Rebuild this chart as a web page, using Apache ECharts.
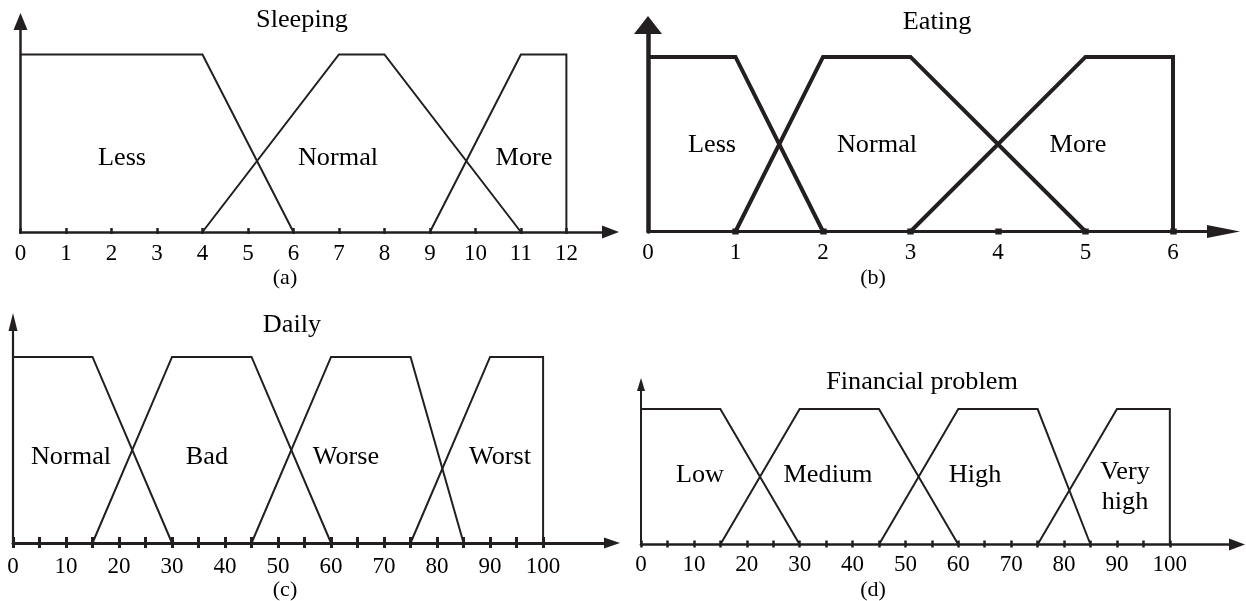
<!DOCTYPE html>
<html>
<head>
<meta charset="utf-8">
<script src="https://cdn.jsdelivr.net/npm/echarts@6/dist/echarts.min.js"></script>
<style>html,body{margin:0;padding:0;background:#fff;}#c{width:1246px;height:601px;}</style>
</head>
<body>
<div id="c"></div>
<script>
// ---------- DATA ----------
// (a) Sleeping
const sleepTicks = [0,1,2,3,4,5,6,7,8,9,10,11,12];
const sleepLabels = [0,1,2,3,4,5,6,7,8,9,10,11,12];
const sleepLess = [[0,1],[4,1],[6,0]];
const sleepNormal = [[4,0],[7,1],[8,1],[11,0]];
const sleepMore = [[9,0],[11,1],[12,1],[12,0]];
// (b) Eating
const eatTicks = [1,2,3,4,5,6];
const eatLabels = [0,1,2,3,4,5,6];
const eatLess = [[0,1],[1,1],[2,0]];
const eatNormal = [[1,0],[2,1],[3,1],[5,0]];
const eatMore = [[3,0],[5,1],[6,1],[6,0]];
// (c) Daily
const dailyTicks = [0,5,10,15,20,25,30,35,40,45,50,55,60,65,70,75,80,85,90,95,100];
const dailyLabels = [0,10,20,30,40,50,60,70,80,90,100];
const dailyNormal = [[0,1],[15,1],[30,0]];
const dailyBad = [[15,0],[30,1],[45,1],[60,0]];
const dailyWorse = [[45,0],[60,1],[75,1],[85,0]];
const dailyWorst = [[75,0],[90,1],[100,1],[100,0]];
// (d) Financial problem
const finTicks = [0,5,10,15,20,25,30,35,40,45,50,55,60,65,70,75,80,85,90,95,100];
const finLabels = [0,10,20,30,40,50,60,70,80,90,100];
const finLow = [[0,1],[15,1],[30,0]];
const finMedium = [[15,0],[30,1],[45,1],[60,0]];
const finHigh = [[45,0],[60,1],[75,1],[85,0]];
const finVeryHigh = [[75,0],[90,1],[100,1],[100,0]];

const titles = ['Sleeping','Eating','Daily','Financial problem'];
const captions = ['(a)','(b)','(c)','(d)'];
const termNames = [
  ['Less','Normal','More'],
  ['Less','Normal','More'],
  ['Normal','Bad','Worse','Worst'],
  ['Low','Medium','High','Very\nhigh']
];

// ---------- LAYOUT ----------
const INK = '#231f20';
const FONT = '"Liberation Serif","Times New Roman",serif';
const panels = [
  {ticks: sleepTicks, labels: sleepLabels, series: [sleepLess, sleepNormal, sleepMore],
   left:20.5, top:21.5, width:590, height:210.5, xMax:12.97, yMax:1.186,
   axisW:2.5, yAxisW:2.5, lineW:2, arrowX:[13,17], arrowY:[14,17],
   tickUp:4, tickDown:2, tickW:2.5, margin:10},
  {ticks: eatTicks, labels: eatLabels, series: [eatLess, eatNormal, eatMore],
   left:648, top:25, width:575.5, height:206.5, xMax:6.577, yMax:1.183,
   axisW:3, yAxisW:4.5, lineW:4, arrowX:[13,33], arrowY:[28,18],
   tickUp:3, tickDown:3, tickW:6.5, margin:10},
  {ticks: dailyTicks, labels: dailyLabels, series: [dailyNormal, dailyBad, dailyWorse, dailyWorst],
   left:13, top:322, width:599, height:221, xMax:113.0, yMax:1.188,
   axisW:3, yAxisW:2.2, lineW:2, arrowX:[11,16], arrowY:[9,18],
   tickUp:6, tickDown:5, tickW:3, margin:12},
  {ticks: finTicks, labels: finLabels, series: [finLow, finMedium, finHigh, finVeryHigh],
   left:641, top:384.5, width:596, height:160, xMax:112.7, yMax:1.181,
   axisW:2.7, yAxisW:2, lineW:2, arrowX:[12,16], arrowY:[8,13],
   tickUp:4, tickDown:3, tickW:2.5, margin:9}
];
const textPos = [
  {title:[302,20], caption:[285,278], terms:[[122,158],[338,158],[524,158]]},
  {title:[937,22], caption:[873,278], terms:[[712,145],[877,145],[1078,145]]},
  {title:[292,325], caption:[285,590], terms:[[71,457],[207,457],[346,457],[500,457]]},
  {title:[922,382], caption:[873,590], terms:[[700,475],[828,475],[975,475],[1125,487]]}
];

const grid = [], xAxis = [], yAxis = [], series = [], graphic = [];
panels.forEach(function (p, i) {
  const rect = {left:p.left, top:p.top, width:p.width, height:p.height, outerBoundsMode:'none', containLabel:false};
  // main grid
  grid.push(Object.assign({}, rect));
  const gi = grid.length - 1;
  xAxis.push({
    type:'value', gridIndex:gi, min:0, max:p.xMax, position:'bottom',
    axisLine:{show:true, lineStyle:{color:INK, width:p.axisW}, symbol:['none','triangle'], symbolSize:p.arrowX},
    axisTick:{show:true, inside:true, length:p.tickUp, customValues:p.ticks, lineStyle:{color:INK, width:p.tickW}},
    axisLabel:{show:true, customValues:p.labels, margin:p.margin, color:'#000', fontFamily:FONT, fontSize:23},
    splitLine:{show:false}
  });
  yAxis.push({
    type:'value', gridIndex:gi, min:0, max:p.yMax,
    axisLine:{show:true, lineStyle:{color:INK, width:p.yAxisW}, symbol:['none','triangle'], symbolSize:p.arrowY},
    axisTick:{show:false}, axisLabel:{show:false}, splitLine:{show:false}
  });
  p.series.forEach(function (d) {
    series.push({
      type:'line', xAxisIndex:gi, yAxisIndex:gi, data:d, symbol:'none', silent:true,
      lineStyle:{color:INK, width:p.lineW, join:'miter', cap:'butt'}, z:3
    });
  });
  // shadow grid for downward tick parts
  grid.push(Object.assign({}, rect));
  const si = grid.length - 1;
  xAxis.push({
    type:'value', gridIndex:si, min:0, max:p.xMax, position:'bottom',
    axisLine:{show:false},
    axisTick:{show:true, inside:false, length:p.tickDown, customValues:p.ticks, lineStyle:{color:INK, width:p.tickW}},
    axisLabel:{show:false}, splitLine:{show:false}
  });
  yAxis.push({type:'value', gridIndex:si, min:0, max:p.yMax, show:false});

  const tp = textPos[i];
  const txt = function (s, pos, size) {
    graphic.push({type:'text', x:pos[0], y:pos[1], scaleX:1.05, silent:true,
      style:{text:s, align:'center', verticalAlign:'middle', font:size + 'px ' + FONT, fill:'#000', lineHeight:30}});
  };
  txt(titles[i], tp.title, 25);
  txt(captions[i], tp.caption, 21);
  termNames[i].forEach(function (n, k) { txt(n, tp.terms[k], 25); });
});

const chart = echarts.init(document.getElementById('c'), null, {renderer:'canvas'});
chart.setOption({animation:false, grid:grid, xAxis:xAxis, yAxis:yAxis, series:series, graphic:graphic});
</script>
</body>
</html>
